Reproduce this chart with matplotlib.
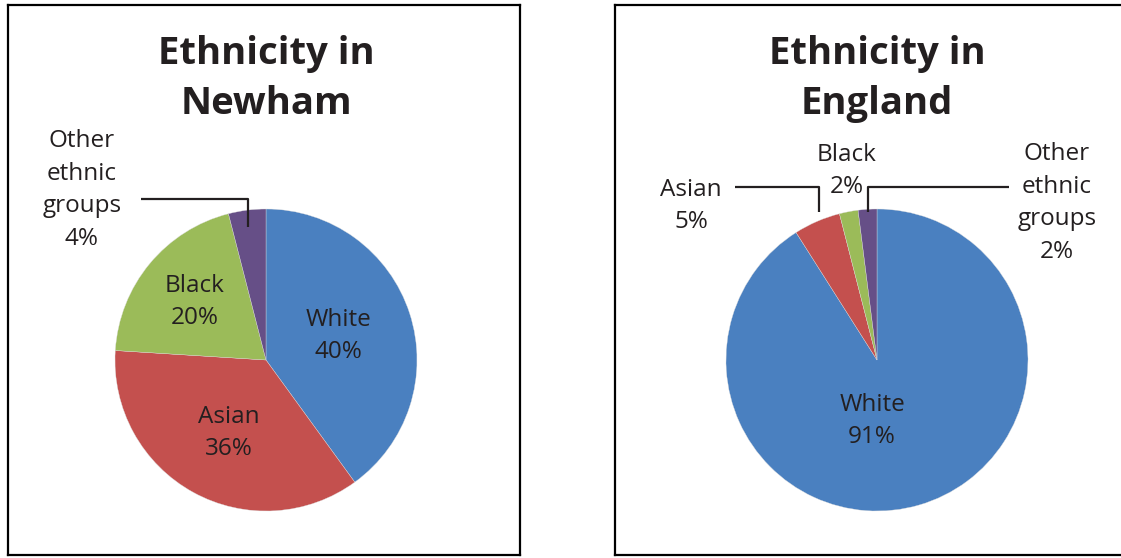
import matplotlib
matplotlib.use("Agg")
from matplotlib import pyplot as plt

plt.rcParams['font.family'] = ['Open Sans', 'DejaVu Sans']

categories = ['White', 'Asian', 'Black', 'Other\nethnic\ngroups']
newham = [40, 36, 20, 4]
england = [91, 5, 2, 2]
colours = ['#4A80C0', '#C4504E', '#9BBB59', '#664F87']
text_colour = '#231F20'

W, H = 1121, 558
R = 151  # pie radius in pixels

fig = plt.figure(figsize=(W / 100, H / 100), dpi=100)


def panel(box, centre, title, values, label_pos, leaders, hide_right=False):
    x0, y0, x1, y1 = box  # pixels, image coords (y down)
    cx, cy = centre
    ax = fig.add_axes([x0 / W, (H - y1) / H, (x1 - x0) / W, (y1 - y0) / H])
    ax.pie(values, colors=colours, startangle=90, counterclock=False,
           radius=1, wedgeprops=dict(edgecolor='#dddddd', linewidth=0.25))
    ax.set_xlim(-(cx - x0) / R, (x1 - cx) / R)
    ax.set_ylim(-(y1 - cy) / R, (cy - y0) / R)
    ax.set_aspect('equal')
    ax.set_frame_on(True)
    ax.set_xticks([])
    ax.set_yticks([])
    for side, sp in ax.spines.items():
        sp.set_visible(True)
        sp.set_linewidth(1.6)
        sp.set_color('black')
    if hide_right:
        ax.spines['right'].set_visible(False)

    ax.text(0, 1.86, title, ha='center', va='center', fontsize=27.5,
            fontweight='bold', color=text_colour, linespacing=1.42)

    for cat, v, (dx, dy) in zip(categories, values, label_pos):
        ax.text(dx, dy, f'{cat}\n{v}%', ha='center', va='center',
                fontsize=17.5, color=text_colour, linespacing=1.47)

    for pts in leaders:
        xs = [(px - cx) / R for px, py in pts]
        ys = [(cy - py) / R for px, py in pts]
        ax.plot(xs, ys, color=text_colour, lw=1.6, solid_capstyle='butt')


panel((8, 5, 520, 555), (266, 360), 'Ethnicity in\nNewham', newham,
      [(0.477, 0.159), (-0.245, -0.483), (-0.470, 0.384), (-1.219, 1.126)],
      [[(141, 199), (248, 199), (248, 227)]])

panel((615, 5, 1121, 555), (877, 360), 'Ethnicity in\nEngland', england,
      [(-0.033, -0.404), (-1.232, 1.020), (-0.199, 1.252), (1.192, 1.040)],
      [[(735, 187), (819, 187), (819, 212)],
       [(1009, 187), (868, 187), (868, 212)]],
      hide_right=True)

fig.savefig('out.png', dpi=100)
